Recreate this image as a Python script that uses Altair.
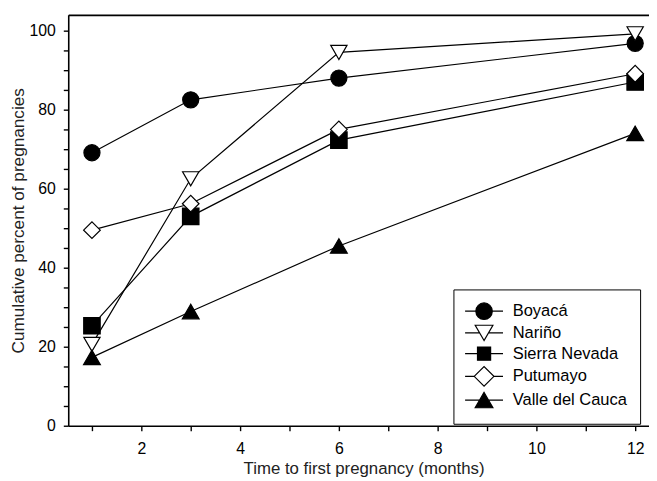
import altair as alt
import pandas as pd

# ---- data ----
months = [1, 3, 6, 12]
series = ["Boyacá", "Nariño", "Sierra Nevada", "Putumayo", "Valle del Cauca"]
boyaca = [69.1, 82.5, 88.0, 96.8]
narino = [20.6, 62.5, 94.5, 99.2]
sierra = [25.3, 53.0, 72.3, 87.0]
putumayo = [49.5, 56.2, 75.0, 89.1]
valle = [17.3, 28.9, 45.5, 74.0]

x_ticks = list(range(1, 13))
y_ticks = list(range(0, 101, 5))

# ---- styles ----
shapes = ["circle", "triangle-down", "square", "diamond", "triangle-up"]
fills = ["black", "white", "black", "white", "black"]
strokes = ["black"] * 5
sizes = [266, 290, 196, 330, 300]
legend_paths = [
    "M-2.4,0H-1.04M1.04,0H2.4M-1.04,0A1.04,1.04,0,1,0,1.04,0A1.04,1.04,0,1,0,-1.04,0Z",
    "M-2.4,0H-0.56M0.56,0H2.4M0,0.97L-1.12,-0.97L1.12,-0.97Z",
    "M-2.4,0H-0.83M0.83,0H2.4M-0.83,-0.83H0.83V0.83H-0.83Z",
    "M-2.4,0H-1.25M1.25,0H2.4M-1.25,0L0,-1.25L1.25,0L0,1.25Z",
    "M-2.4,0H-0.56M0.56,0H2.4M0,-0.97L-1.12,0.97L1.12,0.97Z",
]

rows = []
for name, vals in zip(series, [boyaca, narino, sierra, putumayo, valle]):
    for m, v in zip(months, vals):
        rows.append({"series": name, "month": m, "pct": v})
df = pd.DataFrame(rows)

FONT = "Liberation Sans, Arial, sans-serif"

xscale = alt.Scale(domain=[0.52, 12.28], nice=False, zero=False)
yscale = alt.Scale(domain=[0, 104], nice=False, zero=False)

axis_common = dict(
    grid=False,
    domainColor="black",
    domainWidth=1.6,
    tickColor="black",
    tickWidth=1.4,
    tickSize=5,
    labelColor="black",
    labelFont=FONT,
    labelFontSize=16,
    titleFont=FONT,
    titleFontWeight="normal",
    titleColor="#222222",
)

x_axis = alt.Axis(
    values=x_ticks,
    labelExpr="datum.value % 2 === 0 ? datum.label : ''",
    labelPadding=10,
    title="Time to first pregnancy (months)",
    titlePadding=4,
    titleFontSize=17,
    titleX=299,
    **axis_common,
)
y_axis = alt.Axis(
    values=y_ticks,
    labelExpr="datum.value % 20 === 0 ? datum.label : ''",
    labelPadding=8,
    title="Cumulative percent of pregnancies",
    titlePadding=2,
    titleFontSize=17.4,
    **axis_common,
)

base = alt.Chart(df)

lines = base.mark_line(color="black", strokeWidth=1.2).encode(
    x=alt.X("month:Q", scale=xscale, axis=x_axis),
    y=alt.Y("pct:Q", scale=yscale, axis=y_axis),
    detail="series:N",
)

points = base.mark_point(stroke="black", strokeWidth=1.2, opacity=1, fillOpacity=1).encode(
    x=alt.X("month:Q", scale=xscale, axis=None),
    y=alt.Y("pct:Q", scale=yscale, axis=None),
    shape=alt.Shape("series:N", scale=alt.Scale(domain=series, range=shapes), legend=None),
    fill=alt.Fill("series:N", scale=alt.Scale(domain=series, range=fills), legend=None),
    size=alt.Size("series:O", scale=alt.Scale(domain=series, range=sizes), legend=None),
)

leg = alt.Legend(
    title=None,
    orient="none",
    legendX=390,
    legendY=278,
    padding=13,
    strokeColor="black",
    cornerRadius=0,
    labelFont=FONT,
    labelFontSize=16.7,
    labelColor="black",
    labelOffset=20,
    symbolOffset=9,
    rowPadding=0,
    symbolSize=256,
    symbolStrokeColor="black",
    symbolStrokeWidth=1.2,
)

legend_layer = base.transform_filter("false").mark_point(
    strokeWidth=1.2, size=256, opacity=1, fillOpacity=1, strokeOpacity=1
).encode(
    x=alt.X("month:Q", scale=xscale, axis=None),
    y=alt.Y("pct:Q", scale=yscale, axis=None),
    shape=alt.Shape("series:N", scale=alt.Scale(domain=series, range=legend_paths), legend=leg),
    fill=alt.Fill("series:N", scale=alt.Scale(domain=series, range=fills), legend=leg),
    stroke=alt.Stroke("series:N", scale=alt.Scale(domain=series, range=strokes), legend=leg),
)

top_axis = base.transform_filter("false").mark_point().encode(
    x=alt.X(
        "month:Q",
        scale=xscale,
        axis=alt.Axis(orient="top", labels=False, ticks=False, title=None, grid=False,
                      domainWidth=1.6, domainColor="black"),
    ),
    y=alt.Y("pct:Q", scale=yscale, axis=None),
)

chart = (
    alt.layer(lines, points, legend_layer, top_axis)
    .resolve_scale(shape="independent", fill="independent", size="independent", stroke="independent")
    .resolve_axis(x="independent", y="independent")
    .properties(
        width=588,
        height=416,
        autosize=alt.AutoSizeParams(type="none"),
        padding={"left": 61, "top": 4, "right": 0, "bottom": 53},
    )
    .configure_view(stroke=None)
)

chart.save("out.html", embed_options={"renderer": "svg", "actions": False})
